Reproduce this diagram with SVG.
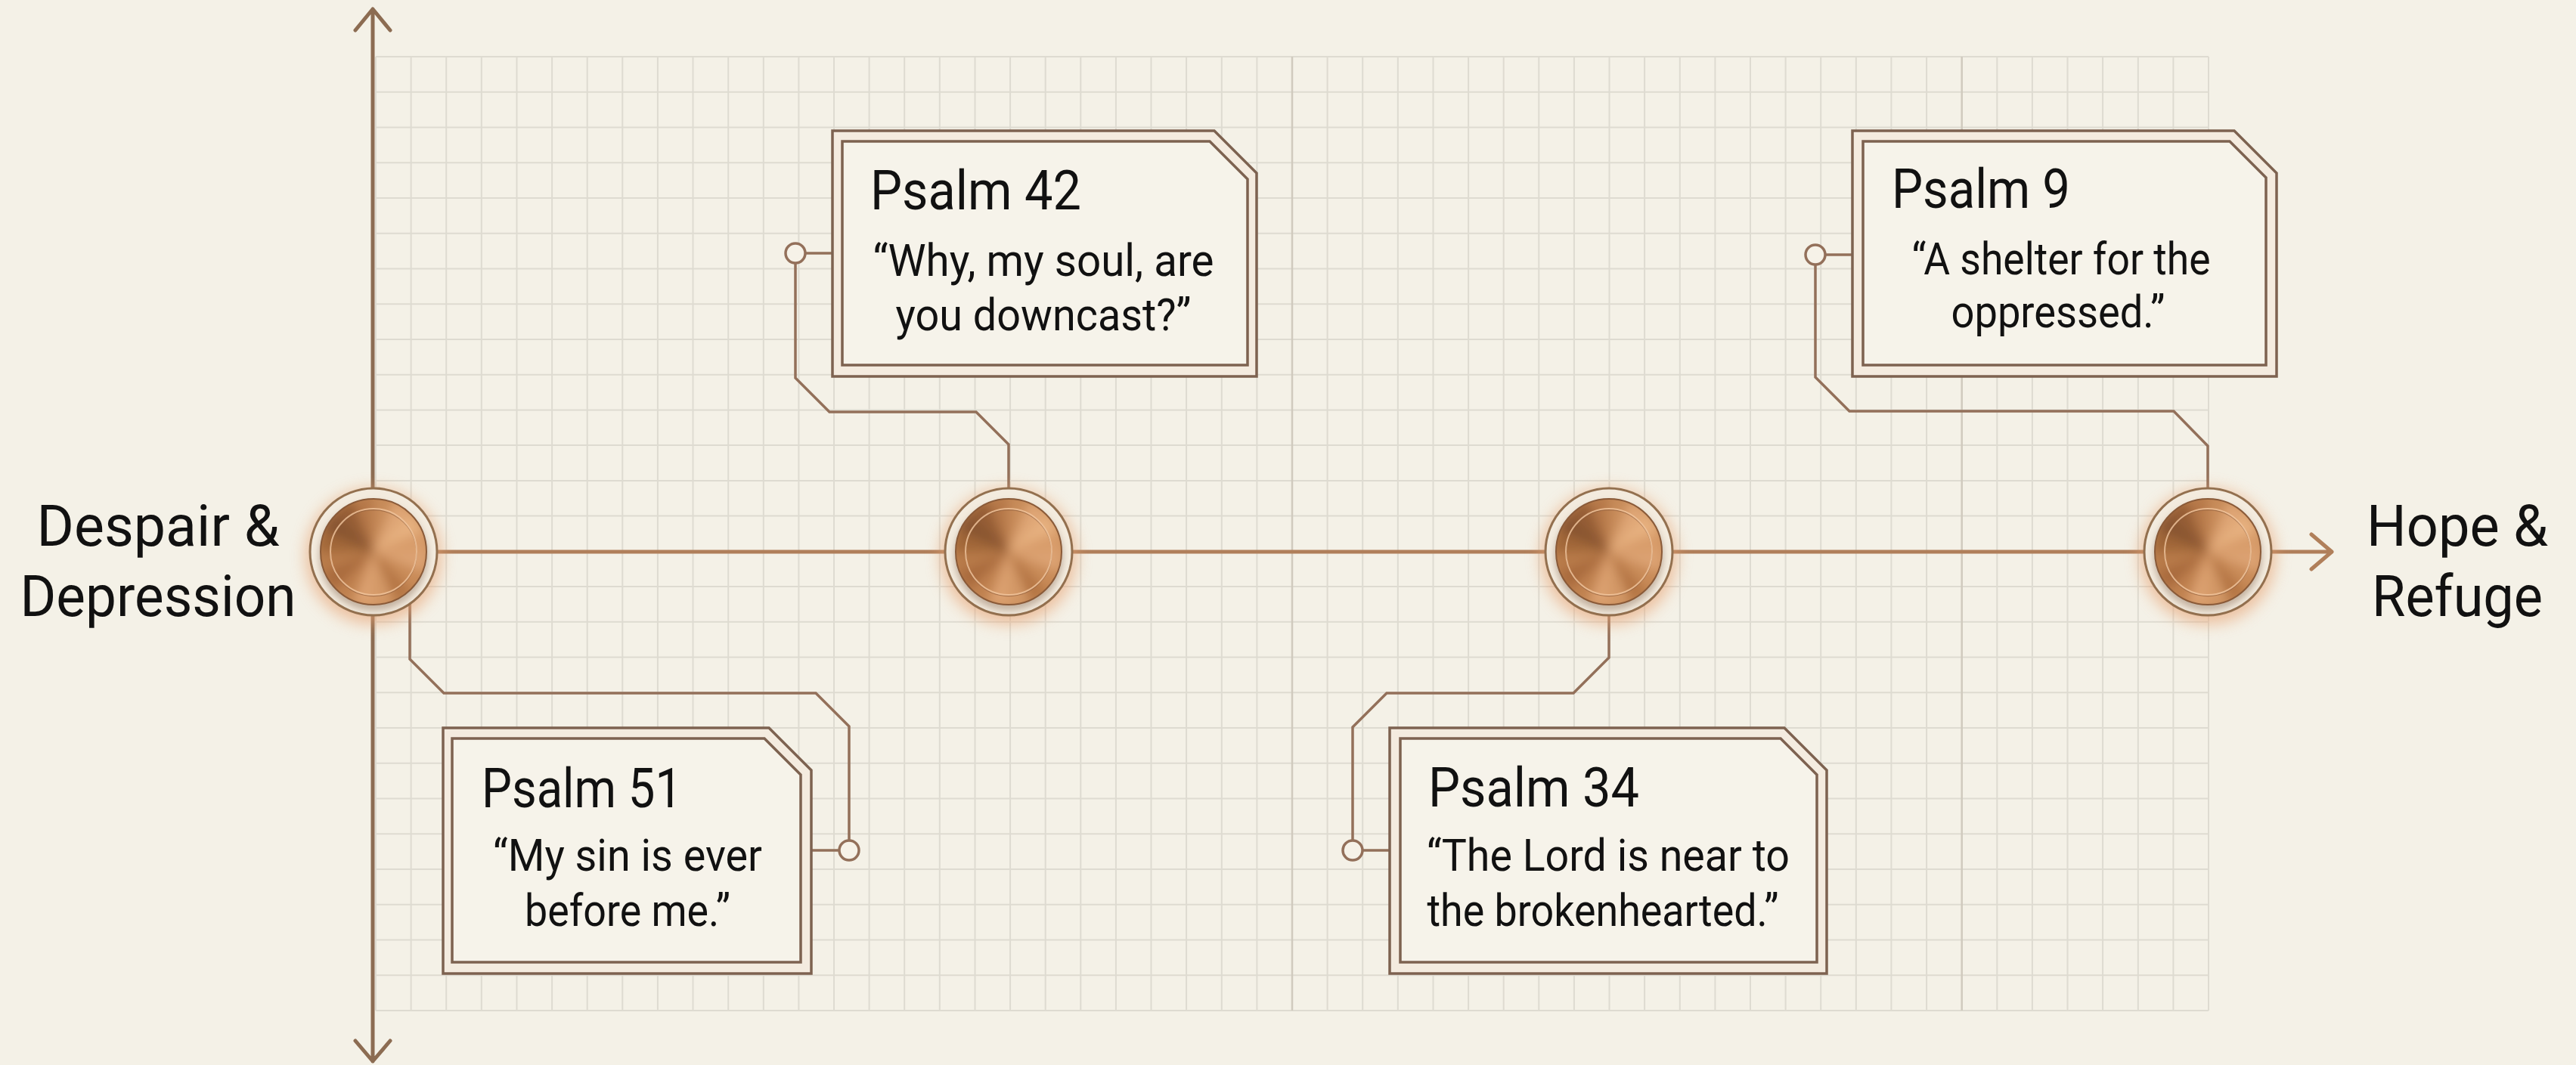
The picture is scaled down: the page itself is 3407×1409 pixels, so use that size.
<svg xmlns="http://www.w3.org/2000/svg" xmlns:xlink="http://www.w3.org/1999/xlink" width="3407" height="1409" viewBox="0 0 3407 1409">
<style>
.bg{fill:#f4f1e7}
.grid{stroke:#dedbd1;stroke-width:2;fill:none}
.major{stroke:#d0cabe;stroke-width:2.5;fill:none}
.axisv{stroke:#8c6c52;stroke-width:5;fill:none;stroke-linecap:round;stroke-linejoin:round}
.axish{stroke:#b07f5a;stroke-width:5;fill:none;stroke-linecap:round;stroke-linejoin:round}
.conn{stroke:#93705a;stroke-width:3.5;fill:none;stroke-linejoin:miter}
.dot{stroke:#93705a;stroke-width:3.5;fill:#f6f2e8}
.outer{fill:#f4ebdf;stroke:#7d6250;stroke-width:3.5}
.inner{fill:#f6f3ea;stroke:#7d6250;stroke-width:3.5}
.title{font-family:Roboto,"Liberation Sans",sans-serif;font-size:72px;fill:#111}
.quote{font-family:Roboto,"Liberation Sans",sans-serif;font-size:60px;fill:#111;text-anchor:middle}
.label{font-family:Roboto,"Liberation Sans",sans-serif;font-size:76px;fill:#111;text-anchor:middle}
</style>
<defs>
<filter id="glow" x="-50%" y="-50%" width="200%" height="200%"><feGaussianBlur stdDeviation="10"/></filter>
<filter id="soft" x="-20%" y="-20%" width="140%" height="140%"><feGaussianBlur stdDeviation="7"/></filter>
<filter id="sh" x="-30%" y="-30%" width="160%" height="160%"><feGaussianBlur stdDeviation="4"/></filter>
<clipPath id="discclip"><circle cx="0" cy="0" r="70"/></clipPath>
<g id="knob">
<circle cx="0" cy="6" r="90" fill="#e7a070" opacity="0.6" filter="url(#glow)"/>
<circle cx="0" cy="0" r="84" fill="#f3ebde" stroke="#93704f" stroke-width="3"/>
<circle cx="0" cy="6" r="72" fill="#6e4c32" opacity="0.35" filter="url(#sh)"/>
<g clip-path="url(#discclip)">
<circle cx="0" cy="0" r="70" fill="#c08552"/>
<g filter="url(#soft)">
<path d="M0,0 L75,0 L69.3,28.7 Z" fill="#dca272"/>
<path d="M0,0 L69.3,28.7 L53,53 Z" fill="#c98b58"/>
<path d="M0,0 L53,53 L28.7,69.3 Z" fill="#b57644"/>
<path d="M0,0 L28.7,69.3 L0,75 Z" fill="#d39866"/>
<path d="M0,0 L0,75 L-28.7,69.3 Z" fill="#dba070"/>
<path d="M0,0 L-28.7,69.3 L-53,53 Z" fill="#c08150"/>
<path d="M0,0 L-53,53 L-69.3,28.7 Z" fill="#a96a3c"/>
<path d="M0,0 L-69.3,28.7 L-75,0 Z" fill="#b87a4a"/>
<path d="M0,0 L-75,0 L-69.3,-28.7 Z" fill="#a06638"/>
<path d="M0,0 L-69.3,-28.7 L-53,-53 Z" fill="#885430"/>
<path d="M0,0 L-53,-53 L-28.7,-69.3 Z" fill="#955d36"/>
<path d="M0,0 L-28.7,-69.3 L0,-75 Z" fill="#b67848"/>
<path d="M0,0 L0,-75 L28.7,-69.3 Z" fill="#c88c5a"/>
<path d="M0,0 L28.7,-69.3 L53,-53 Z" fill="#dfa676"/>
<path d="M0,0 L53,-53 L69.3,-28.7 Z" fill="#e6b07f"/>
<path d="M0,0 L69.3,-28.7 L75,0 Z" fill="#d89c6a"/>
</g>
</g>
<circle cx="0" cy="0" r="70" fill="none" stroke="#8a5a38" stroke-width="2"/>
<circle cx="0" cy="1.5" r="57" fill="none" stroke="#8c5c3a" stroke-width="1.5" opacity="0.6"/>
<circle cx="0" cy="0" r="57" fill="none" stroke="#f2c79f" stroke-width="2" opacity="0.8"/>
</g>
</defs>
<rect class="bg" x="0" y="0" width="3407" height="1409"/>
<g id="grid">
<path class="grid" d="M497,75V1337M543.6,75V1337M590.2,75V1337M636.8,75V1337M683.5,75V1337M730.1,75V1337M776.7,75V1337M823.3,75V1337M869.9,75V1337M916.5,75V1337M963.2,75V1337M1009.8,75V1337M1056.4,75V1337M1103,75V1337M1149.6,75V1337M1196.2,75V1337M1242.8,75V1337M1289.5,75V1337M1336.1,75V1337M1382.7,75V1337M1429.3,75V1337M1475.9,75V1337M1522.5,75V1337M1569.1,75V1337M1615.8,75V1337M1662.4,75V1337M1755.6,75V1337M1802.2,75V1337M1848.8,75V1337M1895.5,75V1337M1942.1,75V1337M1988.7,75V1337M2035.3,75V1337M2081.9,75V1337M2128.5,75V1337M2175.1,75V1337M2221.8,75V1337M2268.4,75V1337M2315,75V1337M2361.6,75V1337M2408.2,75V1337M2454.8,75V1337M2501.4,75V1337M2548.1,75V1337M2641.3,75V1337M2687.9,75V1337M2734.5,75V1337M2781.1,75V1337M2827.8,75V1337M2874.4,75V1337M2921,75V1337"/>
<path class="grid" d="M497,75H2921M497,121.7H2921M497,168.5H2921M497,215.2H2921M497,262H2921M497,308.7H2921M497,355.4H2921M497,402.2H2921M497,448.9H2921M497,495.7H2921M497,542.4H2921M497,589.1H2921M497,635.9H2921M497,682.6H2921M497,729.4H2921M497,776.1H2921M497,822.8H2921M497,869.6H2921M497,916.3H2921M497,963.1H2921M497,1009.8H2921M497,1056.5H2921M497,1103.3H2921M497,1150H2921M497,1196.8H2921M497,1243.5H2921M497,1290.2H2921M497,1337H2921"/>
<path class="major" d="M1709,75V1337M2594.7,75V1337"/>
</g>
<g id="axes">
<path class="axisv" d="M493,12V1404M470,40L493,12L516,40M470,1377L493,1404L516,1377"/>
<path class="axish" d="M494,730H3084M3057,707L3084,730L3057,753"/>
</g>
<g id="connectors">
<path class="conn" d="M542,799V872L587,917H1079L1123,961V1112"/>
<line class="conn" x1="1110" y1="1125" x2="1073" y2="1125"/>
<circle class="dot" cx="1123" cy="1125" r="13"/>
<path class="conn" d="M1334,646V588L1291,545H1097L1052,500V349"/>
<line class="conn" x1="1065" y1="335" x2="1101" y2="335"/>
<circle class="dot" cx="1052" cy="335" r="13"/>
<path class="conn" d="M2128,814V870L2081,917H1834L1789,962V1112"/>
<line class="conn" x1="1802" y1="1125" x2="1838" y2="1125"/>
<circle class="dot" cx="1789" cy="1125" r="13"/>
<path class="conn" d="M2920,646V590L2875,544H2446L2401,499V350"/>
<line class="conn" x1="2414" y1="337" x2="2450" y2="337"/>
<circle class="dot" cx="2401" cy="337" r="13"/>
</g>
<g id="node-start"><use href="#knob" transform="translate(494,730)"/>
<text class="label" x="209" y="722" textLength="321" lengthAdjust="spacingAndGlyphs">Despair &amp;</text>
<text class="label" x="209" y="815" textLength="365" lengthAdjust="spacingAndGlyphs">Depression</text></g>
<g id="node-psalm42-point"><use href="#knob" transform="translate(1334,730)"/></g>
<g id="node-psalm34-point"><use href="#knob" transform="translate(2128,730)"/></g>
<g id="node-end"><use href="#knob" transform="translate(2920,730)"/>
<text class="label" x="3250" y="722" textLength="240" lengthAdjust="spacingAndGlyphs">Hope &amp;</text>
<text class="label" x="3250" y="815" textLength="226" lengthAdjust="spacingAndGlyphs">Refuge</text></g>
<g id="box-psalm42">
<path class="outer" d="M1101,173H1606L1662,229V498H1101Z"/>
<path class="inner" d="M1114,187H1600L1650,237V483H1114Z"/>
<text class="title" x="1151" y="277" textLength="279" lengthAdjust="spacingAndGlyphs">Psalm 42</text>
<text class="quote" x="1380" y="365" textLength="451" lengthAdjust="spacingAndGlyphs">“Why, my soul, are</text>
<text class="quote" x="1380" y="437" textLength="391" lengthAdjust="spacingAndGlyphs">you downcast?”</text>
</g>
<g id="box-psalm9">
<path class="outer" d="M2450,173H2955L3011,229V498H2450Z"/>
<path class="inner" d="M2464,187H2949L2997,235V483H2464Z"/>
<text class="title" x="2502" y="275" textLength="236" lengthAdjust="spacingAndGlyphs">Psalm 9</text>
<text class="quote" x="2726" y="363" textLength="395" lengthAdjust="spacingAndGlyphs">“A shelter for the</text>
<text class="quote" x="2722" y="433" textLength="283" lengthAdjust="spacingAndGlyphs">oppressed.”</text>
</g>
<g id="box-psalm51">
<path class="outer" d="M586,963H1017L1073,1019V1288H586Z"/>
<path class="inner" d="M598,977H1011L1059,1025V1273H598Z"/>
<text class="title" x="637" y="1068" textLength="265" lengthAdjust="spacingAndGlyphs">Psalm 51</text>
<text class="quote" x="830" y="1152" textLength="356" lengthAdjust="spacingAndGlyphs">“My sin is ever</text>
<text class="quote" x="830" y="1225" textLength="272" lengthAdjust="spacingAndGlyphs">before me.”</text>
</g>
<g id="box-psalm34">
<path class="outer" d="M1838,963H2360L2416,1019V1288H1838Z"/>
<path class="inner" d="M1852,977H2355L2403,1025V1273H1852Z"/>
<text class="title" x="1889" y="1067" textLength="279" lengthAdjust="spacingAndGlyphs">Psalm 34</text>
<text class="quote" x="2127" y="1152" textLength="480" lengthAdjust="spacingAndGlyphs">“The Lord is near to</text>
<text class="quote" x="2120" y="1225" textLength="465" lengthAdjust="spacingAndGlyphs">the brokenhearted.”</text>
</g>
</svg>
